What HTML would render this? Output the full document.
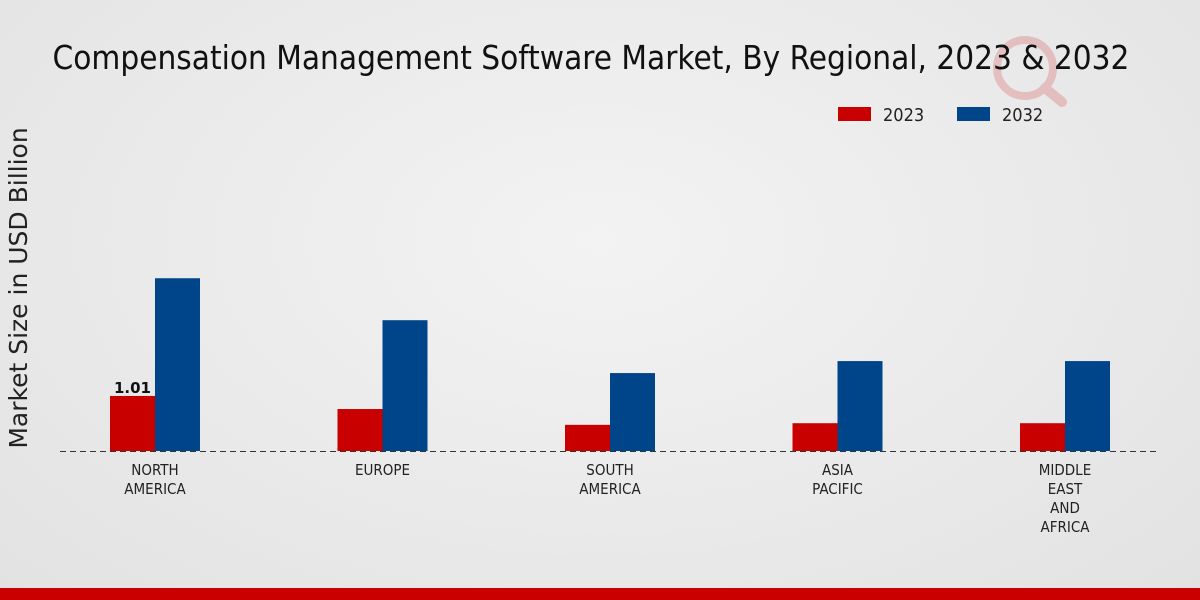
<!DOCTYPE html>
<html><head><meta charset="utf-8"><style>
html,body{margin:0;padding:0}
body{width:1200px;height:600px;overflow:hidden;background:radial-gradient(ellipse at 50% 40%,#f3f3f3 0%,#e9e9e9 60%,#e2e2e2 100%);font-family:"DejaVu Sans Condensed","Liberation Sans Narrow","Liberation Sans",sans-serif;position:relative}
</style></head><body>
<svg width="1200" height="600" style="position:absolute;left:0;top:0">
<g opacity="0.18">
<circle cx="1025" cy="68" r="28" fill="none" stroke="#c00" stroke-width="8"/>
<line x1="1045" y1="88" x2="1062" y2="102" stroke="#c00" stroke-width="10" stroke-linecap="round"/>
</g>
<text x="591" y="69" text-anchor="middle" font-size="33" fill="#111" style="font-family:'DejaVu Sans Condensed','Liberation Sans Narrow',sans-serif">Compensation Management Software Market, By Regional, 2023 &amp; 2032</text>
<g>
<rect x="838" y="107" width="33" height="14" fill="#c80000"/>
<text x="883" y="121" font-size="18" fill="#222">2023</text>
<rect x="957" y="107" width="33" height="14" fill="#004589"/>
<text x="1002" y="121" font-size="18" fill="#222">2032</text>
</g>
<text transform="translate(27,288) rotate(-90)" text-anchor="middle" font-size="25" fill="#222" style="font-family:'DejaVu Sans',sans-serif">Market Size in USD Billion</text>
<g id="bars"></g>
<line x1="60" y1="451.5" x2="1160" y2="451.5" stroke="#333" stroke-dasharray="6,4" stroke-width="1"/>
<g id="labels"></g>
<rect x="0" y="588" width="1200" height="12" fill="#c80000"/>
</svg>
<script>
const categories=[["NORTH","AMERICA"],["EUROPE"],["SOUTH","AMERICA"],["ASIA","PACIFIC"],["MIDDLE","EAST","AND","AFRICA"]];
const values2023=[1.01,0.77,0.48,0.51,0.51];
const values2032=[3.17,2.40,1.43,1.65,1.65];
const valueLabels2023=["1.01","","","",""];
const NS="http://www.w3.org/2000/svg";
const baseY=451, pxPerUnit=54.5, firstX=155, step=227.5, bw=45;
const y=v=>baseY-v*pxPerUnit;
const xc=i=>firstX+i*step;
const bars=document.getElementById('bars'), labels=document.getElementById('labels');
function bar(x,v,color,name){
  const r=document.createElementNS(NS,'rect');
  r.setAttribute('x',x);r.setAttribute('y',y(v));r.setAttribute('width',bw);r.setAttribute('height',baseY-y(v));r.setAttribute('fill',color);
  
  
  bars.appendChild(r);
}
categories.forEach((c,i)=>{
  bar(xc(i)-bw,values2023[i],'#c80000','bar-2023-'+i);
  bar(xc(i),values2032[i],'#004589','bar-2032-'+i);
  if(valueLabels2023[i]){
    const t=document.createElementNS(NS,'text');
    t.setAttribute('x',xc(i)-bw/2);t.setAttribute('y',y(values2023[i])-3);t.setAttribute('text-anchor','middle');
    t.setAttribute('font-size','15');t.setAttribute('font-weight','bold');t.setAttribute('fill','#111');
    t.setAttribute('style',"font-family:'DejaVu Sans',sans-serif");
    t.textContent=valueLabels2023[i];
    
    
    labels.appendChild(t);
  }
  c.forEach((line,k)=>{
    const t=document.createElementNS(NS,'text');
    t.setAttribute('x',xc(i));t.setAttribute('y',475+k*19);t.setAttribute('text-anchor','middle');
    t.setAttribute('font-size','15');t.setAttribute('fill','#222');
    t.textContent=line;
    
    
    labels.appendChild(t);
  });
});
</script>
</body></html>
